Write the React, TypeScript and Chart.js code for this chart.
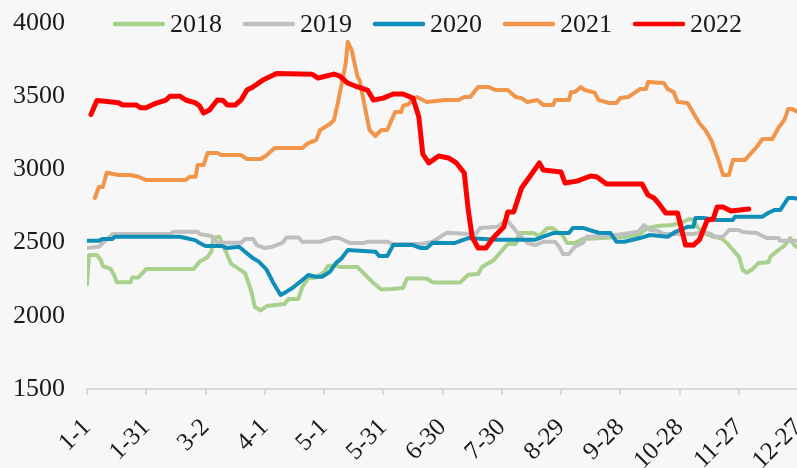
import React, { useEffect, useRef } from 'react';
import { Chart, registerables } from 'chart.js';

Chart.register(...registerables);

const tickLabels = ['1-1', '1-31', '3-2', '4-1', '5-1', '5-31', '6-30', '7-30', '8-29', '9-28', '10-28', '11-27', '12-27'];
const seriesNames = ['2018', '2019', '2020', '2021', '2022'];
const seriesColors = ['#a9d18e', '#bfbfbf', '#0f8fb8', '#f0954a', '#ff0000'];

const days2018 = [0, 1, 5, 7, 8, 12, 14, 15, 22, 23, 26, 30, 54, 57, 61, 63, 64, 67, 71, 73, 78, 80, 83, 85, 88, 91, 100, 102, 107, 109, 112, 116, 120, 122, 126, 128, 137, 140, 145, 149, 154, 160, 162, 172, 175, 189, 193, 198, 200, 206, 209, 213, 217, 219, 226, 229, 233, 236, 241, 243, 247, 251, 261, 272, 279, 284, 289, 296, 301, 305, 307, 309, 312, 317, 321, 324, 327, 330, 332, 334, 337, 340, 345, 346, 350, 353, 356, 358, 360, 364];
const vals2018 = [2215, 2415, 2415, 2381, 2340, 2320, 2270, 2230, 2230, 2262, 2262, 2320, 2320, 2370, 2400, 2440, 2535, 2540, 2415, 2355, 2310, 2292, 2176, 2060, 2036, 2067, 2080, 2115, 2115, 2197, 2258, 2262, 2299, 2340, 2345, 2333, 2333, 2292, 2224, 2180, 2183, 2190, 2255, 2255, 2228, 2228, 2280, 2285, 2333, 2381, 2429, 2490, 2490, 2565, 2565, 2545, 2598, 2598, 2545, 2497, 2497, 2525, 2531, 2540, 2550, 2600, 2613, 2620, 2636, 2661, 2655, 2608, 2567, 2540, 2530, 2497, 2449, 2404, 2313, 2294, 2320, 2360, 2365, 2404, 2449, 2477, 2531, 2483, 2463, 2455];

const days2019 = [0, 6, 8, 13, 42, 44, 56, 57, 63, 66, 78, 80, 84, 86, 90, 94, 99, 101, 107, 109, 118, 125, 128, 133, 140, 142, 152, 155, 169, 175, 179, 182, 192, 197, 199, 208, 211, 213, 218, 223, 227, 231, 237, 239, 241, 244, 247, 251, 253, 262, 268, 279, 282, 285, 289, 292, 307, 312, 316, 318, 322, 325, 330, 332, 339, 344, 350, 351, 364];
const vals2019 = [2463, 2472, 2497, 2558, 2558, 2574, 2574, 2558, 2545, 2499, 2499, 2525, 2525, 2483, 2463, 2472, 2499, 2535, 2535, 2506, 2506, 2535, 2530, 2497, 2497, 2506, 2506, 2490, 2490, 2506, 2540, 2567, 2560, 2560, 2600, 2608, 2643, 2650, 2565, 2497, 2483, 2506, 2506, 2472, 2422, 2422, 2472, 2497, 2540, 2545, 2552, 2574, 2620, 2586, 2580, 2558, 2558, 2574, 2558, 2540, 2540, 2586, 2586, 2572, 2565, 2531, 2531, 2513, 2513];

const days2020 = [0, 6, 8, 13, 14, 47, 50, 55, 57, 60, 68, 71, 77, 80, 84, 87, 91, 94, 98, 101, 104, 108, 112, 116, 119, 123, 126, 129, 132, 146, 148, 152, 155, 165, 169, 172, 175, 183, 186, 193, 207, 227, 231, 236, 244, 246, 251, 256, 259, 265, 268, 272, 280, 285, 294, 298, 304, 307, 308, 312, 319, 327, 328, 342, 345, 348, 351, 355, 357, 364];
const vals2020 = [2513, 2513, 2525, 2525, 2540, 2540, 2531, 2515, 2497, 2477, 2477, 2463, 2472, 2438, 2394, 2370, 2313, 2233, 2142, 2165, 2190, 2233, 2279, 2267, 2267, 2301, 2360, 2394, 2449, 2438, 2408, 2408, 2483, 2483, 2463, 2463, 2499, 2497, 2497, 2531, 2520, 2520, 2540, 2565, 2565, 2600, 2600, 2579, 2567, 2565, 2506, 2506, 2531, 2552, 2540, 2574, 2608, 2608, 2668, 2668, 2654, 2654, 2677, 2677, 2704, 2723, 2723, 2805, 2805, 2795];

const days2021 = [4, 6, 8, 10, 16, 22, 26, 30, 50, 52, 55, 56, 59, 61, 66, 68, 78, 81, 88, 91, 95, 109, 112, 116, 118, 123, 125, 127, 129, 131, 132, 134, 137, 138, 142, 143, 146, 149, 152, 156, 159, 160, 163, 165, 167, 172, 181, 188, 191, 194, 198, 203, 207, 213, 217, 220, 223, 228, 231, 236, 237, 244, 245, 247, 250, 252, 257, 259, 264, 268, 270, 274, 280, 283, 284, 292, 294, 297, 299, 304, 307, 310, 313, 316, 320, 322, 325, 327, 333, 339, 342, 347, 350, 353, 355, 357, 360, 364];
const vals2021 = [2805, 2880, 2880, 2977, 2962, 2962, 2950, 2927, 2927, 2950, 2950, 3030, 3030, 3112, 3112, 3098, 3098, 3071, 3071, 3098, 3146, 3146, 3180, 3200, 3269, 3310, 3337, 3454, 3590, 3727, 3872, 3815, 3631, 3610, 3337, 3269, 3228, 3269, 3269, 3392, 3392, 3433, 3447, 3487, 3494, 3460, 3474, 3474, 3494, 3494, 3563, 3563, 3542, 3542, 3494, 3487, 3460, 3474, 3440, 3440, 3474, 3474, 3528, 3528, 3563, 3542, 3524, 3474, 3454, 3454, 3487, 3494, 3549, 3549, 3597, 3590, 3549, 3528, 3460, 3454, 3385, 3317, 3269, 3201, 3050, 2962, 2962, 3064, 3064, 3153, 3208, 3208, 3283, 3337, 3412, 3412, 3392, 3385];

const days2022 = [2, 5, 9, 16, 18, 25, 27, 30, 34, 40, 42, 47, 50, 55, 57, 59, 62, 66, 69, 71, 75, 78, 81, 84, 89, 96, 114, 117, 125, 128, 132, 137, 142, 145, 150, 155, 160, 165, 168, 170, 173, 178, 183, 187, 191, 193, 195, 198, 202, 206, 211, 213, 216, 220, 224, 229, 231, 240, 242, 248, 255, 258, 263, 281, 284, 287, 290, 293, 299, 303, 307, 310, 312, 314, 317, 319, 322, 326, 335];
const vals2022 = [3375, 3470, 3465, 3455, 3440, 3440, 3421, 3421, 3447, 3474, 3500, 3500, 3474, 3454, 3433, 3385, 3406, 3474, 3470, 3440, 3440, 3474, 3542, 3563, 3610, 3655, 3650, 3624, 3651, 3637, 3590, 3563, 3542, 3474, 3487, 3515, 3515, 3487, 3358, 3105, 3044, 3091, 3078, 3044, 2975, 2723, 2538, 2463, 2463, 2538, 2606, 2709, 2709, 2873, 2948, 3044, 2996, 2982, 2907, 2920, 2955, 2950, 2900, 2900, 2825, 2805, 2757, 2702, 2702, 2483, 2483, 2518, 2586, 2654, 2660, 2743, 2743, 2716, 2729];

const seriesDays = [days2018, days2019, days2020, days2021, days2022];
const seriesVals = [vals2018, vals2019, vals2020, vals2021, vals2022];

const FONT = '"Liberation Serif", "Times New Roman", serif';
const TEXT = '#1a1a1a';

const legendPlugin = {
  id: 'topLegend',
  afterDraw(chart: any) {
    const ctx = chart.ctx;
    ctx.save();
    ctx.font = `26px ${FONT}`;
    ctx.textBaseline = 'middle';
    ctx.textAlign = 'left';
    let x = 113;
    const y = 24;
    chart.data.datasets.forEach((ds: any) => {
      ctx.strokeStyle = ds.borderColor;
      ctx.lineWidth = 4.5;
      ctx.lineCap = 'round';
      ctx.beginPath();
      ctx.moveTo(x + 2, y);
      ctx.lineTo(x + 50, y);
      ctx.stroke();
      ctx.fillStyle = TEXT;
      ctx.fillText(ds.label, x + 57, y + 1);
      x += 57 + ctx.measureText(ds.label).width + 21;
    });
    ctx.restore();
  },
};

export default function App() {
  const canvasRef = useRef<HTMLCanvasElement | null>(null);

  useEffect(() => {
    document.body.style.margin = '0';
    document.body.style.background = '#f7f7f7';
    const canvas = canvasRef.current;
    if (!canvas) return;
    const datasets = seriesNames.map((name, s) => ({
      label: name,
      data: seriesDays[s].map((d, i) => ({ x: d, y: seriesVals[s][i] })),
      borderColor: seriesColors[s],
      backgroundColor: seriesColors[s],
      borderWidth: s === 4 ? 5 : 4,
      pointRadius: 0,
      tension: 0,
      borderJoinStyle: 'round' as const,
      borderCapStyle: 'round' as const,
      order: 5 - s,
    }));
    const chart = new Chart(canvas, {
      type: 'line',
      data: { datasets },
      plugins: [legendPlugin],
      options: {
        animation: false,
        responsive: false,
        devicePixelRatio: 1,
        layout: { padding: { top: 23, left: 0, right: 0, bottom: 0 } },
        plugins: { legend: { display: false }, tooltip: { enabled: false } },
        scales: {
          x: {
            type: 'linear',
            min: 0,
            max: 364,
            grid: { display: true, drawOnChartArea: false, drawTicks: true, tickLength: 6, color: '#d9d9d9', lineWidth: 2 },
            border: { display: true, color: '#d9d9d9', width: 2 },
            ticks: {
              stepSize: 30,
              includeBounds: false,
              autoSkip: false,
              maxRotation: 45,
              minRotation: 45,
              padding: 18,
              color: TEXT,
              font: { family: FONT, size: 25 },
              callback: (v: any) => {
                const i = Number(v) / 30;
                return Number.isInteger(i) && i < tickLabels.length ? tickLabels[i] : null;
              },
            },
            afterFit: (scale: any) => {
              scale.height = 79;
              scale.paddingLeft = 0;
              scale.paddingRight = 0;
            },
          },
          y: {
            min: 1500,
            max: 4000,
            grid: { display: false, drawTicks: false },
            border: { display: false },
            ticks: {
              stepSize: 500,
              padding: 22,
              color: TEXT,
              font: { family: FONT, size: 26 },
              callback: (v: any) => String(v),
            },
            afterFit: (scale: any) => {
              scale.width = 87;
              scale.paddingTop = 0;
              scale.paddingBottom = 0;
            },
          },
        },
      },
    });
    return () => chart.destroy();
  }, []);

  return (
    <div style={{ position: 'fixed', left: 0, top: 0, width: 806, height: 468, background: '#f7f7f7', overflow: 'hidden' }}>
      <canvas ref={canvasRef} width={806} height={468} style={{ display: 'block' }} />
    </div>
  );
}
